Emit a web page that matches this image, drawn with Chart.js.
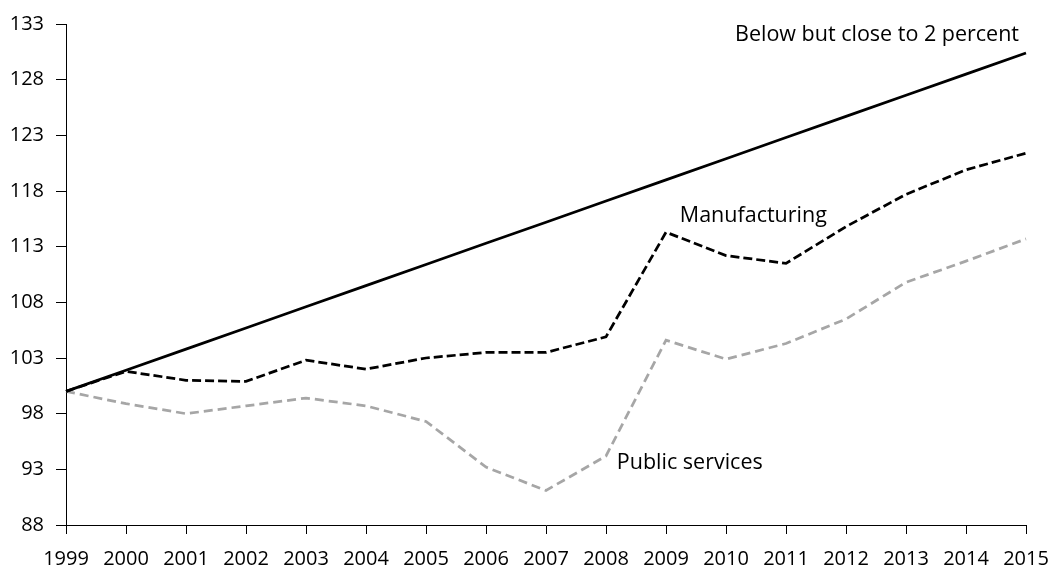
<!DOCTYPE html>
<html>
<head>
<meta charset="utf-8">
<script src="https://cdn.jsdelivr.net/npm/chart.js@4.4.1/dist/chart.umd.min.js"></script>
<style>
  html, body { margin: 0; padding: 0; background: #fff; }
  #wrap { width: 1051px; height: 565px; }
</style>
</head>
<body>
<div id="wrap"><canvas id="chart" width="1051" height="565"></canvas></div>
<script>
// data
const years = ['1999', '2000', '2001', '2002', '2003', '2004', '2005', '2006', '2007',
               '2008', '2009', '2010', '2011', '2012', '2013', '2014', '2015'];
const target = [100, 101.9, 103.8, 105.7, 107.6, 109.5, 111.4, 113.3, 115.2,
                117.1, 119.0, 120.9, 122.8, 124.7, 126.6, 128.5, 130.4];
const manufacturing = [100, 101.8, 101.0, 100.9, 102.8, 102.0, 103.0, 103.5, 103.5,
                       104.9, 114.3, 112.2, 111.5, 114.8, 117.7, 119.9, 121.4];
const publicServices = [100, 98.9, 98.0, 98.7, 99.4, 98.7, 97.3, 93.2, 91.1,
                        94.2, 104.6, 102.9, 104.3, 106.5, 109.8, 111.7, 113.7];
const yTicks = [88, 93, 98, 103, 108, 113, 118, 123, 128, 133];

const FONT = '"Open Sans", "DejaVu Sans", sans-serif';
Chart.defaults.font.family = FONT;
Chart.defaults.font.size = 20;
Chart.defaults.color = '#000';

// text labels next to the lines, placed in data coordinates
const lineLabels = [
    { text: 'Below but close to 2 percent', x: 11.15, y: 132.0 },
    { text: 'Manufacturing', x: 10.23, y: 115.75 },
    { text: 'Public services', x: 9.18, y: 93.55 }
];

const labelPlugin = {
    id: 'lineLabels',
    afterDatasetsDraw(chart) {
        const ctx = chart.ctx;
        const xs = chart.scales.x;
        const ys = chart.scales.y;
        ctx.save();
        ctx.font = '21.5px ' + FONT;
        ctx.fillStyle = '#000';
        ctx.textAlign = 'left';
        ctx.textBaseline = 'middle';
        lineLabels.forEach(l => {
            ctx.fillText(l.text, xs.getPixelForValue(l.x), ys.getPixelForValue(l.y));
        });
        ctx.restore();
    }
};

const data = {
    labels: years,
    datasets: [{
        label: 'Below but close to 2 percent',
        data: target,
        borderColor: '#000',
        borderWidth: 2.75,
        pointRadius: 0,
        tension: 0
    },
    {
        label: 'Manufacturing',
        data: manufacturing,
        borderColor: '#000',
        borderWidth: 2.75,
        borderDash: [9, 4],
        pointRadius: 0,
        tension: 0
    },
    {
        label: 'Public services',
        data: publicServices,
        borderColor: '#a6a6a6',
        borderWidth: 2.75,
        borderDash: [9, 5],
        pointRadius: 0,
        tension: 0
    }]
};

const config = {
    type: 'line',
    data,
    options: {
        responsive: false,
        animation: false,
        devicePixelRatio: 1,
        layout: { padding: { top: 24, right: 25, left: 0, bottom: 0 } },
        plugins: {
            legend: { display: false },
            tooltip: { enabled: false }
        },
        scales: {
            x: {
                offset: false,
                grid: {
                    drawOnChartArea: false,
                    drawTicks: true,
                    tickLength: 9,
                    color: '#000'
                },
                border: { display: true, color: '#000', width: 1 },
                ticks: { maxRotation: 0, autoSkip: false, padding: 13 },
                afterFit(scale) {
                    scale.height = 40;
                    // the tick padding would otherwise widen the right margin
                    scale.paddingLeft = 0;
                    scale.paddingRight = 0;
                }
            },
            y: {
                min: 88,
                max: 133,
                afterBuildTicks(scale) {
                    scale.ticks = yTicks.map(v => ({ value: v }));
                },
                grid: {
                    drawOnChartArea: false,
                    drawTicks: true,
                    tickLength: 10,
                    color: '#000'
                },
                border: { display: true, color: '#000', width: 1 },
                ticks: { padding: 12 },
                afterFit(scale) { scale.width = 66; }
            }
        }
    },
    plugins: [labelPlugin]
};

const myChart = new Chart(document.getElementById('chart'), config);
</script>
</body>
</html>
